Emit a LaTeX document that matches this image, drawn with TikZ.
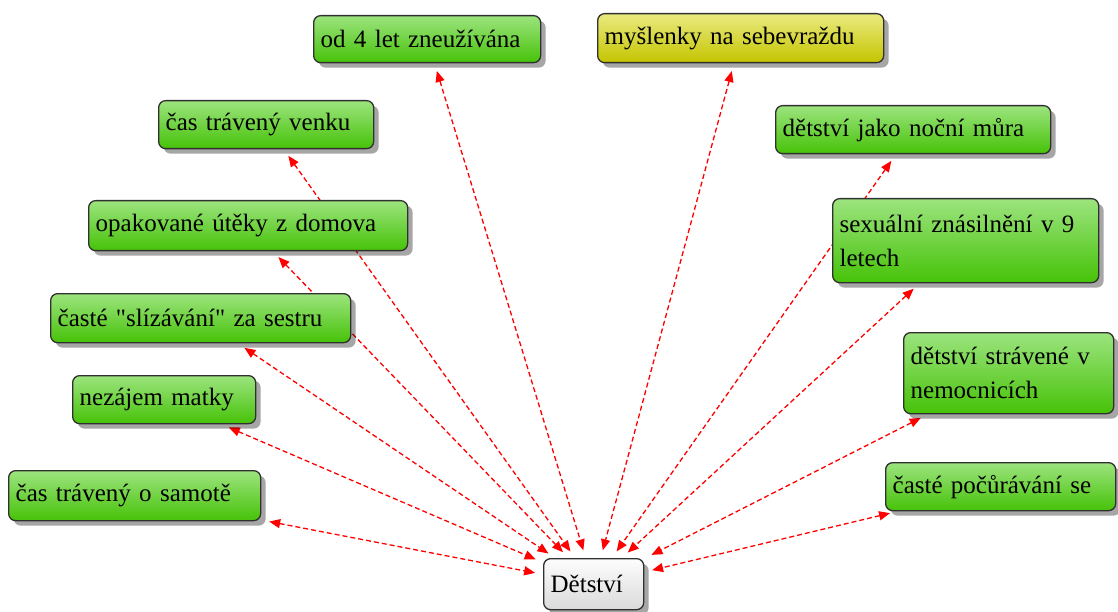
\documentclass[tikz,border=0pt]{standalone}
\usepackage{fontspec}
\setmainfont{Liberation Serif}[Ligatures=TeXOff]
\usetikzlibrary{arrows.meta,shadows,backgrounds}

\definecolor{gtop}{RGB}{156,228,126}
\definecolor{gbot}{RGB}{70,194,8}
\definecolor{ytop}{RGB}{234,234,128}
\definecolor{ybot}{RGB}{196,196,0}
\definecolor{wtop}{RGB}{253,253,253}
\definecolor{wbot}{RGB}{218,218,218}
\definecolor{edge}{RGB}{48,48,48}
\definecolor{linkred}{RGB}{255,0,0}

\tikzset{
  box/.style={draw=edge, line width=1.3pt, rounded corners=7pt,
    inner xsep=7pt, inner ysep=2pt, align=left, anchor=north west,
    font=\fontsize{25}{34}\selectfont,
    drop shadow={shadow xshift=5pt, shadow yshift=-5pt, fill=black, opacity=0.35}},
  leaf/.style={box, top color=gtop, bottom color=gbot},
  idea/.style={box, top color=ytop, bottom color=ybot},
  root/.style={box, top color=wtop, bottom color=wbot},
  link/.style={draw=linkred, line width=1.3pt, dash pattern=on 5pt off 3pt,
    {Triangle[length=11pt,width=9pt]}-{Triangle[length=11pt,width=9pt]},
    shorten <=8pt, shorten >=8pt}
}

\begin{document}
\begin{tikzpicture}[x=1pt, y=-1pt]
\useasboundingbox (0,0) rectangle (1118,612);

% topics around the centre
\node[leaf, minimum width=227pt, minimum height=47pt, text width=213pt] (od) at (313,15) {od 4 let zneužívána};
\node[idea, minimum width=286pt, minimum height=49pt, text width=272pt] (mysl) at (597,13) {myšlenky na sebevraždu};
\node[leaf, minimum width=215pt, minimum height=48pt, text width=201pt] (venku) at (158,100) {čas trávený venku};
\node[leaf, minimum width=275pt, minimum height=48pt, text width=261pt] (nocni) at (775,105) {dětství jako noční můra};
\node[leaf, minimum width=319pt, minimum height=50pt, text width=305pt] (opak) at (88,200) {opakované útěky z domova};
\node[leaf, minimum width=266pt, minimum height=84pt, text width=252pt] (sex) at (832,198) {sexuální znásilnění v 9\\letech};
\node[leaf, minimum width=300pt, minimum height=49pt, text width=286pt] (sliz) at (50,293) {časté "slízávání" za sestru};
\node[leaf, minimum width=183pt, minimum height=48pt, text width=169pt] (nez) at (72,375) {nezájem matky};
\node[leaf, minimum width=210pt, minimum height=81pt, text width=196pt] (strav) at (903,332) {dětství strávené v\\nemocnicích};
\node[leaf, minimum width=230pt, minimum height=48pt, text width=216pt] (pocur) at (885,462) {časté počůrávání se};
\node[leaf, minimum width=252pt, minimum height=50pt, text width=238pt] (samote) at (8,470) {čas trávený o samotě};

% centre
\node[root, minimum width=100pt, minimum height=51pt, text width=86pt] (det) at (543,558) {Dětství};

% connectors, drawn under the boxes
\begin{scope}[on background layer]
  \foreach \n in {samote,nez,sliz,opak,venku,od,mysl,nocni,sex,strav,pocur}
    \draw[link] (\n) -- (det);
\end{scope}
\end{tikzpicture}
\end{document}
